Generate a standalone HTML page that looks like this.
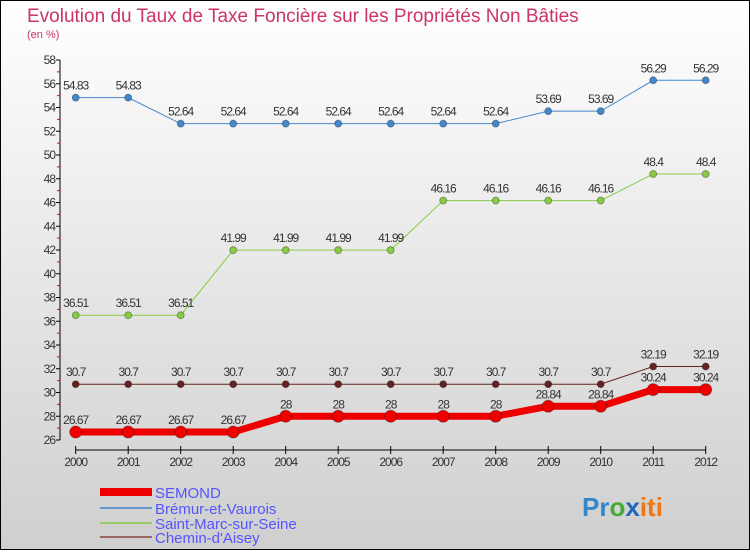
<!DOCTYPE html>
<html><head><meta charset="utf-8"><style>
html,body{margin:0;padding:0}
body{width:750px;height:550px;overflow:hidden;font-family:"Liberation Sans",sans-serif}
</style></head><body>
<svg id="c" width="750" height="550" xmlns="http://www.w3.org/2000/svg">
<defs><linearGradient id="bg" x1="0" y1="0" x2="0" y2="1"><stop offset="0" stop-color="#ffffff"/><stop offset="1" stop-color="#cfcfcf"/></linearGradient></defs>
<rect x="0.5" y="0.5" width="749" height="549" fill="url(#bg)" stroke="#000"/>
<text x="27" y="22" font-size="19" fill="#cc3366">Evolution du Taux de Taxe Foncière sur les Propriétés Non Bâties</text>
<text x="27" y="38" font-size="11" fill="#cc3366">(en %)</text>
<g id="axes"></g><g id="series"></g>
<g>
<rect x="100" y="488" width="52" height="8" fill="#ee0000"/>
<text x="155" y="498" font-size="15" fill="#5555ff">SEMOND</text>
<line x1="100" y1="508" x2="152" y2="508" stroke="#6699cc" stroke-width="2"/>
<text x="155" y="514" font-size="15" fill="#5555ff">Brémur-et-Vaurois</text>
<line x1="100" y1="523" x2="152" y2="523" stroke="#99cc66" stroke-width="2"/>
<text x="155" y="529" font-size="15" fill="#5555ff">Saint-Marc-sur-Seine</text>
<line x1="100" y1="537" x2="152" y2="537" stroke="#996666" stroke-width="2"/>
<text x="155" y="543" font-size="15" fill="#5555ff">Chemin-d'Aisey</text>
</g>
<text x="582" y="516" font-size="26" font-weight="bold"><tspan fill="#3388cc">Pr</tspan><tspan fill="#44aa33">o</tspan><tspan fill="#2266bb">x</tspan><tspan fill="#ee7711">iti</tspan></text>
</svg>
<script>
const years=["2000","2001","2002","2003","2004","2005","2006","2007","2008","2009","2010","2011","2012"];
const semond=[26.67,26.67,26.67,26.67,28,28,28,28,28,28.84,28.84,30.24,30.24];
const bremur=[54.83,54.83,52.64,52.64,52.64,52.64,52.64,52.64,52.64,53.69,53.69,56.29,56.29];
const saintMarc=[36.51,36.51,36.51,41.99,41.99,41.99,41.99,46.16,46.16,46.16,46.16,48.4,48.4];
const chemin=[30.7,30.7,30.7,30.7,30.7,30.7,30.7,30.7,30.7,30.7,30.7,32.19,32.19];
const yTicks=[26,28,30,32,34,36,38,40,42,44,46,48,50,52,54,56,58];
const NS="http://www.w3.org/2000/svg";
function X(i){return 75.7+i*52.5;}
function Y(v){return 440-(v-26)*380/32;}
function mk(t,a,p){const e=document.createElementNS(NS,t);for(const k in a)e.setAttribute(k,a[k]);p.appendChild(e);return e;}
const ax=document.getElementById('axes');
let l=mk('line',{x1:60,y1:60,x2:60,y2:440,stroke:'#000'},ax);


yTicks.forEach(v=>{
 mk('line',{x1:56,y1:Y(v),x2:60,y2:Y(v),stroke:'#000'},ax);
 if(v<58){const r=mk('line',{x1:57,y1:Y(v+1),x2:60,y2:Y(v+1),stroke:'#ee0000'},ax);}
 const t=mk('text',{x:55,y:Y(v)+4,'font-size':12,'text-anchor':'end',fill:'#333','letter-spacing':'-1'},ax);
 t.textContent=v;
 
 
});
l=mk('line',{x1:X(0),y1:450,x2:X(12),y2:450,stroke:'#000'},ax);


years.forEach((y,i)=>{
 mk('line',{x1:X(i),y1:446,x2:X(i),y2:454,stroke:'#000'},ax);
 const t=mk('text',{x:X(i),y:466,'font-size':12,'text-anchor':'middle',fill:'#333','letter-spacing':'-1'},ax);
 t.textContent=y;
 
 
});
const sg=document.getElementById('series');
function draw(vals,color,w,r,name){
 const g=mk('g',{},sg);
 
 
 mk('polyline',{points:vals.map((v,i)=>X(i)+','+Y(v)).join(' '),fill:'none',stroke:color,'stroke-width':w},g);
 vals.forEach((v,i)=>{
  const c=mk('circle',{cx:X(i),cy:Y(v),r:r,fill:color,stroke:'rgba(0,0,0,0.3)'},g);
  
  
  const t=mk('text',{x:X(i),y:Y(v)-8,'font-size':12,'text-anchor':'middle',fill:'#333','letter-spacing':'-1'},g);
  t.textContent=v;
  
  
 });
}
draw(chemin,'#662222',1,3.5,'chemin');
draw(saintMarc,'#88cc44',1,3.5,'saint-marc');
draw(bremur,'#4488cc',1,3.5,'bremur');
draw(semond,'#ee0000',7,6,'semond');
</script>
</body></html>
